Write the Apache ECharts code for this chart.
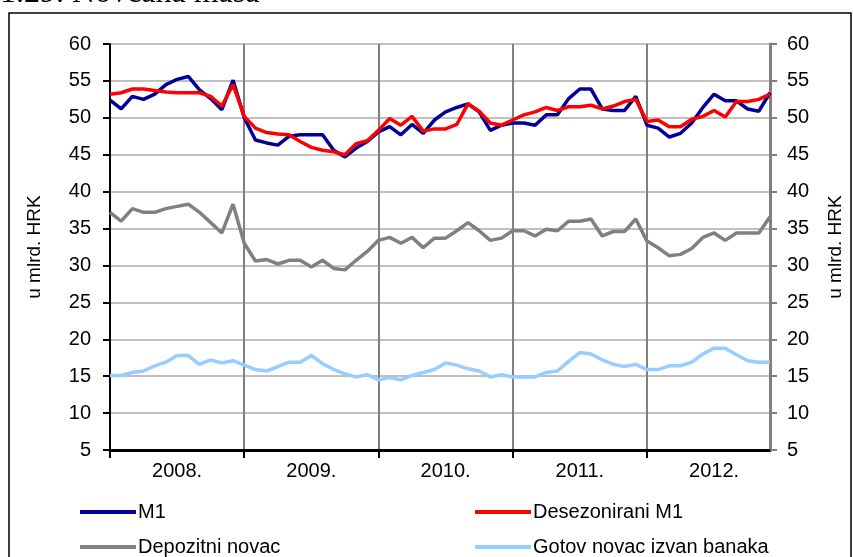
<!DOCTYPE html>
<html>
<head>
<meta charset="utf-8">
<script src="https://cdn.jsdelivr.net/npm/echarts@6/dist/echarts.min.js"></script>
<style>
html,body{margin:0;padding:0;background:#fff;}
#c{width:853px;height:557px;}
</style>
</head>
<body>
<div id="c"></div>
<script>
var years = ['2008.', '2009.', '2010.', '2011.', '2012.'];
var yTicks = [5, 10, 15, 20, 25, 30, 35, 40, 45, 50, 55, 60];
var seriesNames = ['M1', 'Desezonirani M1', 'Depozitni novac', 'Gotov novac izvan banaka'];

var m1 = [52.4, 51.2, 52.9, 52.5, 53.2, 54.5, 55.2, 55.6, 53.8, 52.6, 51.1, 55.1,
          50.0, 47.0, 46.6, 46.3, 47.5, 47.7, 47.7, 47.7, 45.6, 44.7, 45.9, 46.8,
          48.1, 48.8, 47.7, 49.1, 47.9, 49.7, 50.8, 51.4, 51.9, 50.8, 48.3, 49.0,
          49.3, 49.3, 49.0, 50.4, 50.4, 52.6, 53.9, 53.9, 51.2, 51.0, 51.0, 52.9,
          49.0, 48.6, 47.4, 47.9, 49.3, 51.4, 53.2, 52.3, 52.3, 51.2, 50.9, 53.4];
var m1sa = [53.2, 53.4, 53.9, 53.9, 53.7, 53.5, 53.4, 53.4, 53.4, 52.9, 51.6, 54.5,
            50.2, 48.6, 48.0, 47.8, 47.7, 46.8, 46.0, 45.6, 45.4, 45.0, 46.5, 46.9,
            48.3, 49.9, 49.0, 50.2, 48.2, 48.5, 48.5, 49.1, 51.9, 50.9, 49.3, 49.0,
            49.7, 50.4, 50.8, 51.4, 51.0, 51.5, 51.5, 51.7, 51.2, 51.6, 52.2, 52.5,
            49.5, 49.7, 48.8, 48.8, 49.8, 50.2, 51.0, 50.1, 52.2, 52.2, 52.5, 53.2];
var depozitni = [37.2, 36.0, 37.7, 37.2, 37.2, 37.7, 38.0, 38.3, 37.2, 35.8, 34.4, 38.3,
                 33.0, 30.6, 30.8, 30.2, 30.7, 30.7, 29.8, 30.7, 29.6, 29.4, 30.7, 31.9,
                 33.4, 33.8, 33.0, 33.8, 32.4, 33.7, 33.7, 34.7, 35.8, 34.7, 33.4, 33.7,
                 34.7, 34.7, 34.0, 34.9, 34.7, 36.0, 36.0, 36.3, 34.0, 34.6, 34.6, 36.3,
                 33.3, 32.4, 31.3, 31.5, 32.3, 33.8, 34.4, 33.4, 34.4, 34.4, 34.4, 36.6];
var gotov = [15.1, 15.1, 15.5, 15.7, 16.4, 16.9, 17.8, 17.8, 16.6, 17.2, 16.8, 17.1,
             16.5, 15.9, 15.7, 16.3, 16.9, 16.9, 17.8, 16.7, 15.9, 15.3, 14.9, 15.2,
             14.5, 14.8, 14.5, 15.1, 15.5, 15.9, 16.8, 16.5, 16.0, 15.7, 14.9, 15.2,
             14.9, 14.9, 14.9, 15.5, 15.7, 17.0, 18.2, 18.0, 17.2, 16.6, 16.3, 16.6,
             15.9, 15.9, 16.4, 16.4, 16.9, 18.0, 18.8, 18.8, 17.9, 17.1, 16.9, 16.9];

var categories = [];
years.forEach(function (y) {
  for (var m = 1; m <= 12; m++) categories.push(m + '.' + y);
});

var FONT = 'Liberation Sans, Arial, sans-serif';
var labelStyle = { fontFamily: FONT, fontSize: 20, color: '#000' };

function yAxisCfg(pos) {
  return {
    type: 'value', position: pos,
    min: yTicks[0], max: yTicks[yTicks.length - 1], interval: 5,
    name: 'u mlrd. HRK', nameLocation: 'middle', nameRotate: 90,
    nameGap: pos === 'left' ? 66 : 56,
    nameTextStyle: { fontFamily: FONT, fontSize: 19, color: '#000' },
    axisLine: { show: true, lineStyle: { color: pos === 'left' ? '#000' : '#808080', width: pos === 'left' ? 2 : 3 } },
    axisTick: { show: true, length: 7, lineStyle: { color: pos === 'left' ? '#000' : '#808080', width: 2 } },
    axisLabel: Object.assign({ margin: pos === 'left' ? 19 : 17 }, labelStyle),
    splitLine: { show: pos === 'left', lineStyle: { color: '#c0c0c0', width: 2 } }
  };
}

var chart = echarts.init(document.getElementById('c'), null, { renderer: 'canvas' });
var colors = ['#000099', '#ff0000', '#808080', '#99ccff'];
var dataSets = [m1, m1sa, depozitni, gotov];
var legendText = { fontFamily: FONT, fontSize: 20, color: '#000', padding: [0, 0, 0, -3] };
var legendPos = [[80, 502], [475, 502], [80, 537], [475, 537]];

var option = {
  animation: false,
  backgroundColor: '#fff',
  grid: { left: 110, right: 81, top: 44, bottom: 107, show: true, borderColor: '#808080', borderWidth: 2 },
  graphic: [
    { type: 'rect', shape: { x: 9, y: 13, width: 842, height: 560 }, style: { fill: 'none', stroke: '#000', lineWidth: 1.5 }, z: 100 },
    { type: 'text', left: 0, top: -22, style: { text: '1.29. Novčana masa', font: '32px "Liberation Serif", "Times New Roman", serif', fill: '#000' }, z: 100 }
  ],
  xAxis: {
    type: 'category', data: categories, boundaryGap: false,
    axisLine: { lineStyle: { color: '#000', width: 3 } },
    axisTick: { show: true, length: 8, interval: function (i) { return i % 12 === 0; }, lineStyle: { color: '#000', width: 2 } },
    axisLabel: Object.assign({
      interval: function (i) { return i % 12 === 6; },
      formatter: function (v) { return v.split('.').slice(1).join('.'); },
      margin: 11
    }, labelStyle),
    splitLine: { show: true, interval: function (i) { return i % 12 === 0 && i > 0; }, lineStyle: { color: '#808080', width: 2 } }
  },
  yAxis: [yAxisCfg('left'), yAxisCfg('right')],
  legend: seriesNames.map(function (n, k) {
    return { data: [n], left: legendPos[k][0], top: legendPos[k][1], padding: 0,
      icon: 'rect', itemWidth: 56, itemHeight: 4, textStyle: legendText };
  }),
  series: seriesNames.map(function (n, k) {
    return {
      name: n, type: 'line', data: dataSets[k], yAxisIndex: 0,
      showSymbol: false, symbol: 'none',
      lineStyle: { color: colors[k], width: 3.5 },
      itemStyle: { color: colors[k] },
      z: 3 + k
    };
  })
};
chart.setOption(option);
</script>
</body>
</html>
